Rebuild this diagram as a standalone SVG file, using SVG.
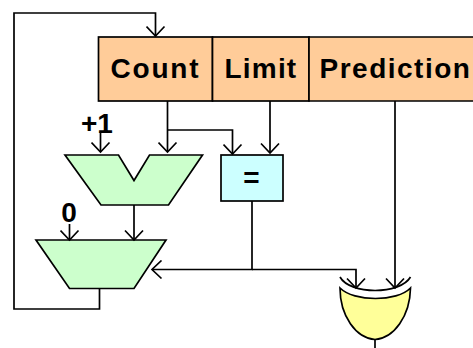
<svg xmlns="http://www.w3.org/2000/svg" width="473" height="348" viewBox="0 0 473 348">
<defs>
<style>
.w{fill:none;stroke:#000;stroke-width:1.7}
.s{stroke:#000;stroke-width:1.7;stroke-linejoin:miter}
.t{font-family:"Liberation Sans",Arial,sans-serif;font-weight:bold;fill:#000;font-size:28px}
.reg{fill:#ffcc99}
.add{fill:#ccffcc}
</style>
<marker id="a" viewBox="0 0 20 20" refX="15" refY="10" markerWidth="20" markerHeight="20" markerUnits="userSpaceOnUse" orient="auto"><path d="M5.500 1 L15 10 L5.500 19" fill="none" stroke="#000" stroke-width="1.700"/></marker>
</defs>
<g id="reg-count"><rect class="s reg" x="98.500" y="37" width="114" height="64"/><text class="t" x="110.500" y="78" letter-spacing="1.800">Count</text></g>
<g id="reg-limit"><rect class="s reg" x="212.500" y="37" width="96.500" height="64"/><text class="t" x="224.500" y="78" letter-spacing="1.200">Limit</text></g>
<g id="reg-prediction"><path class="s reg" d="M473 37H309V101H473"/><text class="t" x="319.500" y="78" letter-spacing="1.500">Prediction</text></g>
<g id="adder"><path class="s add" d="M65 155H118.500L134 180.500L149.500 155H202.500L168.500 205H101Z"/><text class="t" x="81" y="133">+1</text></g>
<g id="compare"><rect class="s" x="221" y="155" width="62" height="46" fill="#ccffff"/><text class="t" x="251.500" y="187" text-anchor="middle">=</text></g>
<g id="mux"><path class="s add" d="M36 240H166L134 288.500H69.500Z"/><text class="t" x="69" y="222" text-anchor="middle">0</text></g>
<g id="xor"><path d="M340 288C354 302 397 302 410.500 288C410 316 394 338 375 339.500C356 338 340 316 340 288Z" fill="#ffff99" stroke="#000" stroke-width="1.700"/><path class="w" d="M340 277C350 295 400 295 410.500 277"/></g>
<g id="connectors">
<path class="w" marker-end="url(#a)" d="M99.500 288.500V309H14V13H155.500V36"/>
<path class="w" marker-end="url(#a)" d="M167.500 101V152"/>
<path class="w" marker-end="url(#a)" d="M167.500 130H232.500V154"/>
<path class="w" marker-end="url(#a)" d="M270 101V153"/>
<path class="w" marker-end="url(#a)" d="M100.500 132V152"/>
<path class="w" marker-end="url(#a)" d="M69.500 224V240"/>
<path class="w" marker-end="url(#a)" d="M134 205V240"/>
<path class="w" marker-end="url(#a)" d="M252 201V269.500H152"/>
<path class="w" marker-end="url(#a)" d="M252 269.500H356V288"/>
<path class="w" marker-end="url(#a)" d="M395 101V288"/>
<path class="w" d="M375 340V348"/>
</g>
</svg>
